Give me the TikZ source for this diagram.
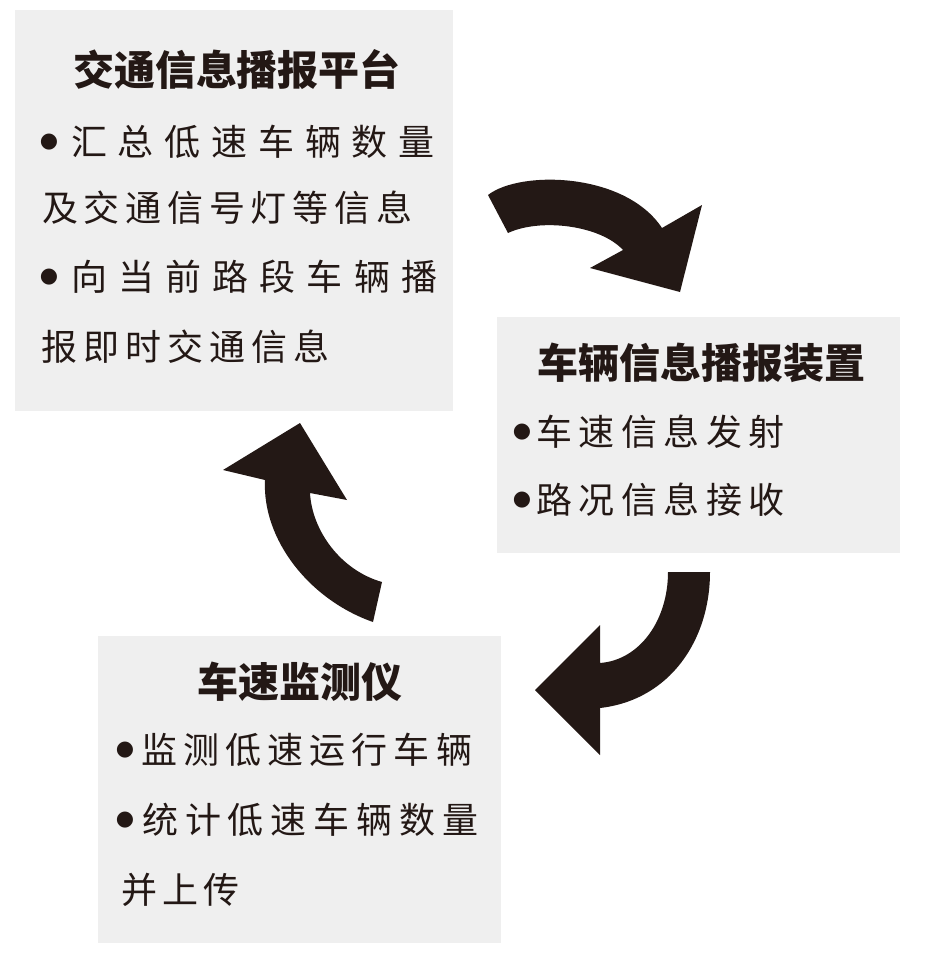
\documentclass[tikz,border=0pt]{standalone}
\usepackage{fontspec}
\usepackage{tikz}
\usetikzlibrary{positioning}
\newfontfamily\cjk{Noto Sans CJK SC}
\newfontfamily\symfont{DejaVu Sans}
\definecolor{ink}{RGB}{35,24,21}
\definecolor{panelgray}{RGB}{239,239,239}
\newcommand{\spread}[2]{{\addfontfeature{LetterSpace=#1}#2}}
\tikzset{panel/.style={fill=panelgray, inner sep=0, anchor=north west}}
\tikzset{head/.style={font=\cjk\bfseries\fontsize{41}{41}\selectfont, inner sep=0, text=ink}}
\tikzset{body/.style={font=\cjk\fontsize{36}{36}\selectfont, inner sep=0, anchor=west, text=ink}}
\tikzset{dot/.style={font=\symfont\fontsize{21}{21}\selectfont, inner sep=0, text=ink}}

\begin{document}
\begin{tikzpicture}[x=1pt,y=-1pt]
\useasboundingbox (0,0) rectangle (935,967);
% panels
\node[panel, minimum width=438pt, minimum height=401pt] (platform) at (15,10) {};
\node[panel, minimum width=403pt, minimum height=236pt] (device) at (497,317) {};
\node[panel, minimum width=403pt, minimum height=307pt] (monitor) at (98,636) {};
% platform text
\node[head] (platformtitle) at (237,70) {交通信息播报平台};
\node[dot] (dot11) at (49,142) {●};
\node[body] (line11) at (71,142) {\spread{30}{汇总低速车辆数量}};
\node[body] (line12) at (42,208) {\spread{16}{及交通信号灯等信息}};
\node[dot] (dot13) at (49,277) {●};
\node[body] (line13) at (71,277) {\spread{31}{向当前路段车辆播}};
\node[body] (line14) at (41,347) {\spread{17}{报即时交通信息}};
% device text
\node[head] (devicetitle) at (701,363) {车辆信息播报装置};
\node[dot] (dot21) at (522,432) {●};
\node[body] (line21) at (536,432) {\spread{18}{车速信息发射}};
\node[dot] (dot22) at (522,500) {●};
\node[body] (line22) at (536,500) {\spread{18}{路况信息接收}};
% monitor text
\node[head] (monitortitle) at (300,682) {车速监测仪};
\node[dot] (dot31) at (125,750) {●};
\node[body] (line31) at (141,750) {\spread{17}{监测低速运行车辆}};
\node[dot] (dot32) at (125,820) {●};
\node[body] (line32) at (142,820) {\spread{19}{统计低速车辆数量}};
\node[body] (line33) at (121,890) {\spread{14}{并上传}};
% curved arrows
\fill[ink] (488,195) .. controls (520,170) and (625,172) .. (662,228) -- (702,205) -- (680,292) -- (590,268) -- (623,250) .. controls (600,225) and (540,218) .. (508,233) -- cycle;
\fill[ink] (668,572) -- (710,572) .. controls (710,640) and (670,700) .. (600,708) -- (600,755) -- (535,690) -- (600,625) -- (600,663) .. controls (640,660) and (668,620) .. (668,572) -- cycle;
\fill[ink] (382,582) -- (373,622) .. controls (310,600) and (262,540) .. (265,480) -- (223,470) -- (300,423) -- (347,500) -- (310,493) .. controls (312,530) and (340,570) .. (382,582) -- cycle;
\end{tikzpicture}
\end{document}
